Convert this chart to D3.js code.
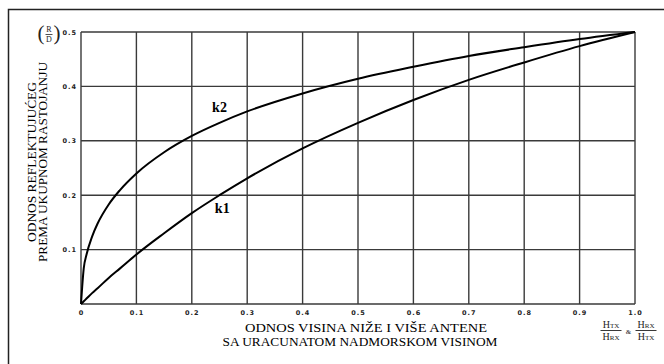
<!DOCTYPE html>
<html><head><meta charset="utf-8">
<script src="https://cdn.jsdelivr.net/npm/d3@7"></script>
<style>body{margin:0;background:#fff}svg{display:block}</style>
</head><body>
<svg id="c" width="664" height="364"></svg>
<script>
const xTicks = [0, 0.1, 0.2, 0.3, 0.4, 0.5, 0.6, 0.7, 0.8, 0.9, 1.0];
const xTickLabels = ["0", "0.1", "0.2", "0.3", "0.4", "0.5", "0.6", "0.7", "0.8", "0.9", "1.0"];
const yTicks = [0.1, 0.2, 0.3, 0.4, 0.5];
const yTickLabels = ["0.1", "0.2", "0.3", "0.4", "0.5"];
const hRatio = [0, 0.005, 0.01, 0.02, 0.03, 0.05, 0.07, 0.1, 0.15, 0.2, 0.25, 0.3, 0.4, 0.5, 0.6, 0.7, 0.8, 0.9, 1.0];
const k1 = [0, 0.005, 0.01, 0.02, 0.029, 0.048, 0.065, 0.091, 0.13, 0.167, 0.2, 0.231, 0.286, 0.333, 0.375, 0.412, 0.444, 0.474, 0.5];
const k2 = [0, 0.066, 0.091, 0.124, 0.148, 0.183, 0.209, 0.24, 0.279, 0.309, 0.333, 0.354, 0.387, 0.414, 0.436, 0.456, 0.472, 0.487, 0.5];
const seriesLabels = ["k1", "k2"];

const svg = d3.select("#c");
const x = d3.scaleLinear().domain([0, 1]).range([81, 635]);
const y = d3.scaleLinear().domain([0, 0.5]).range([304, 32]);

// outer frame
svg.append("path").attr("d", "M8.5,370 V9.5 H670").attr("fill", "none").attr("stroke", "#222").attr("stroke-width", 1.5);

const gridColor = "#3a3a3a";
svg.append("g").selectAll("line").data(xTicks).join("line")
  .attr("x1", d => x(d)).attr("x2", d => x(d)).attr("y1", y(0)).attr("y2", y(0.5))
  .attr("stroke", gridColor).attr("stroke-width", 1.4);
svg.append("g").selectAll("line").data([0].concat(yTicks)).join("line")
  .attr("x1", x(0)).attr("x2", x(1)).attr("y1", d => y(d)).attr("y2", d => y(d))
  .attr("stroke", gridColor).attr("stroke-width", 1.4);

// tick labels
const tickFont = "DejaVu Sans";
svg.append("g").selectAll("text").data(xTicks).join("text")
  .attr("x", d => x(d) + 0.5).attr("y", 315).attr("text-anchor", "middle")
  .attr("font-family", tickFont).attr("font-size", 6.5).attr("font-weight", "bold")
  .attr("letter-spacing", 1).attr("fill", "#222")
  .text((d, i) => xTickLabels[i]);
svg.append("g").selectAll("text").data(yTicks).join("text")
  .attr("x", 77).attr("y", d => y(d) + 2.5).attr("text-anchor", "end")
  .attr("font-family", tickFont).attr("font-size", 6.5).attr("font-weight", "bold")
  .attr("letter-spacing", 1).attr("fill", "#222")
  .text((d, i) => yTickLabels[i]);

// curves
const line = d3.line().x(d => x(d[0])).y(d => y(d[1])).curve(d3.curveMonotoneX);
[k1, k2].forEach(s => {
  svg.append("path").datum(hRatio.map((h, i) => [h, s[i]]))
    .attr("d", line).attr("fill", "none").attr("stroke", "#000").attr("stroke-width", 2);
});

// curve labels
const serif = "Liberation Serif";
svg.append("text").attr("x", x(0.255)).attr("y", y(0.176) + 5).attr("text-anchor", "middle")
  .attr("font-family", serif).attr("font-weight", "bold").attr("font-size", 14).text(seriesLabels[0]);
svg.append("text").attr("x", x(0.25)).attr("y", y(0.362) + 5).attr("text-anchor", "middle")
  .attr("font-family", serif).attr("font-weight", "bold").attr("font-size", 14).text(seriesLabels[1]);

// x axis title
svg.append("text").attr("x", 366).attr("y", 332).attr("text-anchor", "middle")
  .attr("font-family", serif).attr("font-size", 12.5).attr("textLength", 242).attr("lengthAdjust", "spacingAndGlyphs")
  .text("ODNOS VISINA NIŽE I VIŠE ANTENE");
svg.append("text").attr("x", 360).attr("y", 346).attr("text-anchor", "middle")
  .attr("font-family", serif).attr("font-size", 12.5).attr("textLength", 275).attr("lengthAdjust", "spacingAndGlyphs")
  .text("SA URACUNATOM NADMORSKOM VISINOM");

// y axis title
svg.append("text").attr("transform", "translate(35.5,162) rotate(-90)").attr("text-anchor", "middle")
  .attr("font-family", serif).attr("font-size", 13).attr("textLength", 160).attr("lengthAdjust", "spacingAndGlyphs")
  .text("ODNOS REFLEKTUJUĆEG");
svg.append("text").attr("transform", "translate(46.5,162) rotate(-90)").attr("text-anchor", "middle")
  .attr("font-family", serif).attr("font-size", 13).attr("textLength", 200).attr("lengthAdjust", "spacingAndGlyphs")
  .text("PREMA UKUPNOM RASTOJANJU");

// (R/D) fraction
const fr = svg.append("g").attr("font-family", serif).attr("fill", "#222");
fr.append("text").attr("x", 41).attr("y", 40).attr("text-anchor", "middle").attr("font-size", 21).text("(");
fr.append("text").attr("x", 57).attr("y", 40).attr("text-anchor", "middle").attr("font-size", 21).text(")");
fr.append("text").attr("x", 49).attr("y", 32).attr("text-anchor", "middle").attr("font-size", 8).text("R");
fr.append("line").attr("x1", 45.5).attr("x2", 52.5).attr("y1", 34.5).attr("y2", 34.5).attr("stroke", "#222").attr("stroke-width", 0.8);
fr.append("text").attr("x", 49).attr("y", 42).attr("text-anchor", "middle").attr("font-size", 8).text("D");

// H fractions at the right
const hf = svg.append("g").attr("font-family", serif).attr("fill", "#222").attr("font-size", 10);
function frac(cx, a, b) {
  const t1 = hf.append("text").attr("x", cx).attr("y", 328).attr("text-anchor", "middle");
  t1.append("tspan").text("H"); t1.append("tspan").attr("font-size", 7).text(a);
  hf.append("line").attr("x1", cx - 10.5).attr("x2", cx + 10.5).attr("y1", 330.5).attr("y2", 330.5).attr("stroke", "#222").attr("stroke-width", 0.9);
  const t2 = hf.append("text").attr("x", cx).attr("y", 340).attr("text-anchor", "middle");
  t2.append("tspan").text("H"); t2.append("tspan").attr("font-size", 7).text(b);
}
frac(611, "TX", "RX");
frac(646, "RX", "TX");
hf.append("text").attr("x", 628.5).attr("y", 334).attr("text-anchor", "middle").attr("font-size", 7).text("&");
</script>
</body></html>
